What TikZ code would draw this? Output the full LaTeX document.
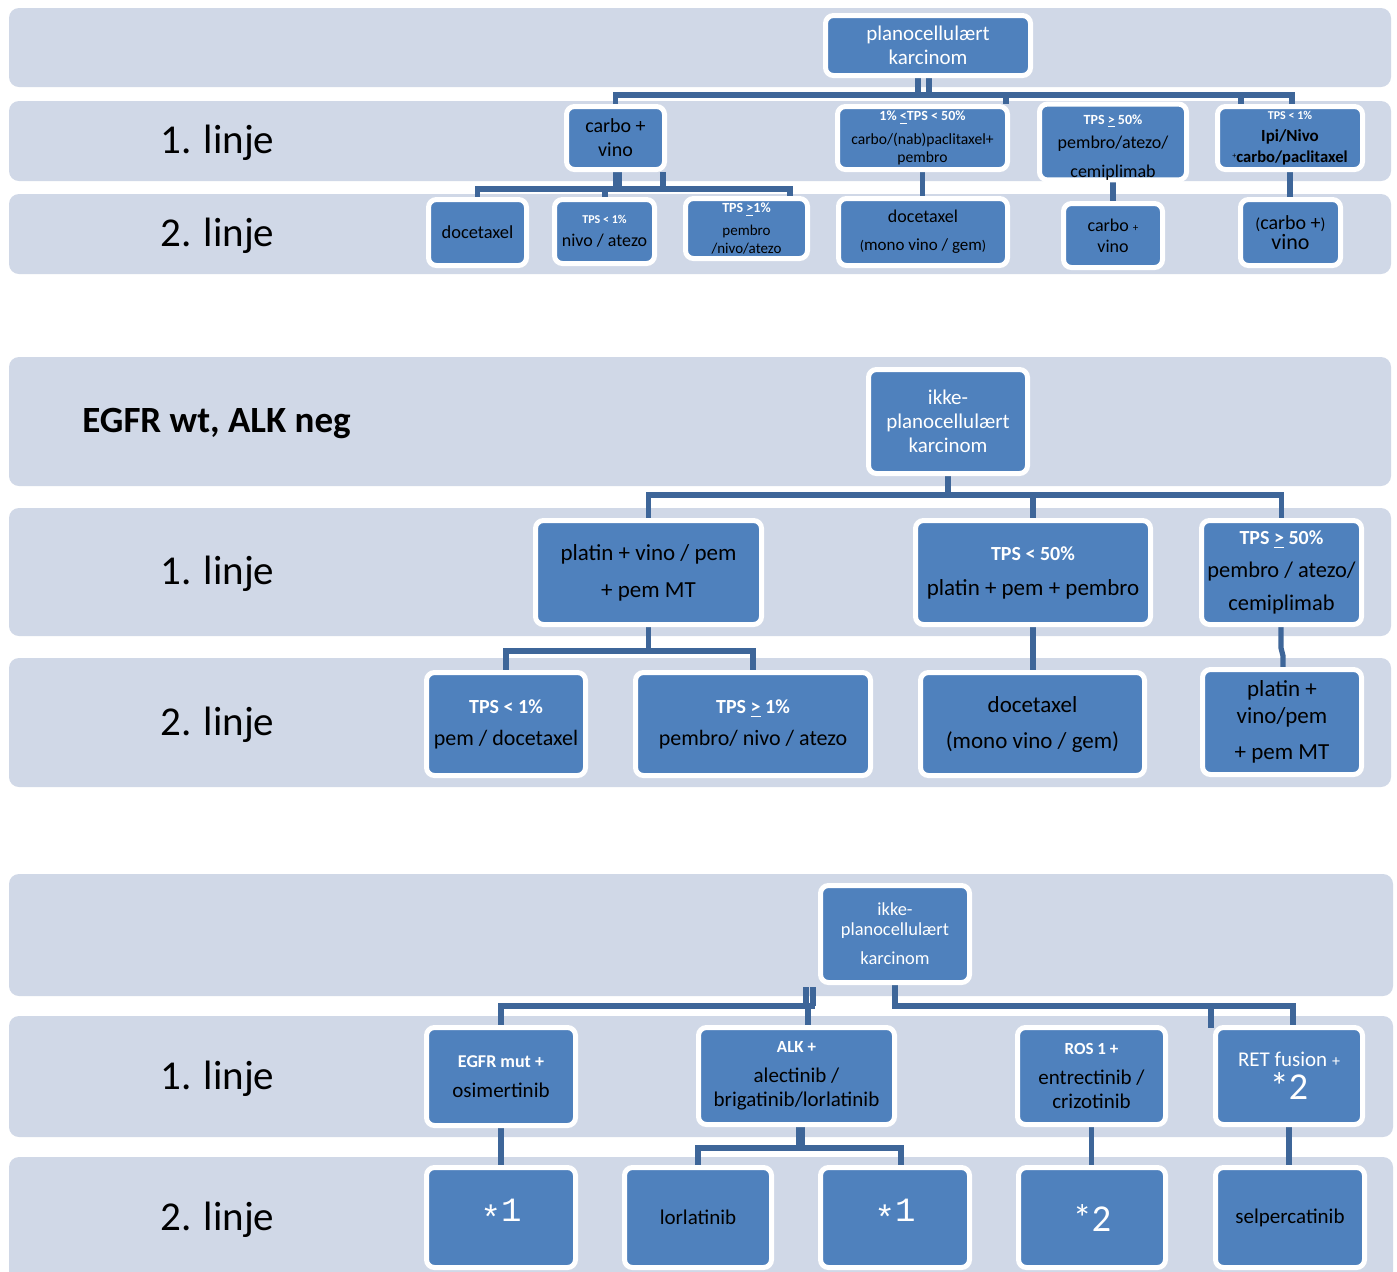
\documentclass[tikz,border=0pt]{standalone}
\usepackage{fontspec}
\setmainfont{Carlito}
\newfontfamily\monof{Liberation Mono}
\usetikzlibrary{calc,backgrounds}
\pgfdeclarelayer{bgzero}
\pgfdeclarelayer{bgone}
\pgfsetlayers{bgzero,bgone,main}
\definecolor{bandc}{RGB}{208,216,231}
\definecolor{boxc}{RGB}{79,129,189}
\definecolor{linec}{RGB}{62,102,153}
\newcommand\fs[2]{\fontsize{#1}{#2}\selectfont}
\newcommand\wb[1]{{\color{white}\bfseries #1}}
\newcommand\starone{{\color{white}\monof\fs{17}{17}\raisebox{-4pt}{*}1}}
\newcommand\bx[7][]{\node[box,minimum width={(#4-#2-5)*0.5pt},minimum height={(#5-#3-5)*0.5pt},#1] (#6) at ({(#2+#4)/2},{(#3+#5)/2}) {#7};}
\begin{document}
\begin{tikzpicture}[x=0.5pt,y=-0.5pt,
  box/.style={draw=white,line width=2.5pt,fill=boxc,rounded corners=4pt,inner sep=0pt,align=center,font=\fs{10.5}{12.5}},
  conn/.style={draw=linec,line width=2.6pt},
  band/.style={fill=bandc,rounded corners=5pt},
  lbl/.style={inner sep=0pt,anchor=base west,font=\fs{20.5}{24}}]
\useasboundingbox (0,0) rectangle (1397,1271);
\clip (0,0) rectangle (1397,1271);
\begin{pgfonlayer}{bgzero}
\fill[white] (0,0) rectangle (1397,1271);
\fill[band] (9,8) rectangle (1391,87);
\fill[band] (9,101) rectangle (1391,181);
\fill[band] (9,194) rectangle (1391,274);
\fill[band] (9,357) rectangle (1391,486);
\fill[band] (9,508) rectangle (1391,636);
\fill[band] (9,658) rectangle (1391,787);
\fill[band] (9,874) rectangle (1393,996);
\fill[band] (9,1016) rectangle (1393,1137);
\fill[band] (9,1157) rectangle (1393,1290);
\end{pgfonlayer}

% ---------- labels ----------
\node[lbl] (l11) at (160,153) {1. linje};
\node[lbl] (l12) at (160,246) {2. linje};
\node[lbl,font=\fs{18.5}{22}\bfseries] (hd2) at (82,432) {EGFR wt, ALK neg};
\node[lbl] (l21) at (160,584) {1. linje};
\node[lbl] (l22) at (160,735) {2. linje};
\node[lbl] (l31) at (160,1089) {1. linje};
\node[lbl] (l32) at (160,1230) {2. linje};

% ---------- section 1 ----------
\bx[font=\fs{10.5}{12}]{823}{13}{1033}{78}{r1}{\color{white}planocellulært\\\color{white}karcinom}
\bx[font=\fs{10}{12}]{564}{104}{667}{172}{a1}{carbo +\\vino}
\bx[font=\fs{8}{9}]{835}{104}{1010}{172}{a2}{\fs{7}{9}\wb{1\% \underline{<}TPS < 50\%}\\[3pt]\fs{7.8}{9}carbo/(nab)paclitaxel+\\\fs{7.8}{9}pembro}
\bx[font=\fs{9}{12}]{1037}{104}{1189}{180}{a3}{\rule{0pt}{10pt}\fs{7}{9}\wb{TPS \underline{>} 50\%}\\\fs{9}{11}pembro/atezo/\\[2.5pt]\fs{9}{11}cemiplimab}
\bx[font=\fs{8.5}{10.5}]{1215}{104}{1365}{172}{a4}{\fs{6}{7}\wb{TPS < 1\%}\\[0.5pt]\fs{8.5}{10}\bfseries Ipi/Nivo\\\fs{8.3}{10}{\fs{4}{4}\raisebox{2pt}{+}}\bfseries carbo/paclitaxel}

\bx[font=\fs{9.2}{11}]{426}{197}{529}{268}{b1}{docetaxel}
\bx[font=\fs{9}{11.5}]{552}{197}{657}{266}{b2}{\fs{6}{7}\wb{TPS < 1\%}\\\fs{9}{11}nivo / atezo}
\bx[font=\fs{7.5}{9}]{683}{196}{810}{261}{b3}{\fs{7}{9}\wb{TPS \underline{>}1\%}\\[2.5pt]\fs{7.5}{9}pembro\\\fs{7.5}{9}/nivo/atezo}
\bx[font=\fs{9}{14}]{836}{196}{1010}{268}{b4}{\fs{9}{11}docetaxel\\\fs{8.5}{10}{\fs{7}{8}(}mono vino / gem{\fs{7}{8})}}
\bx[font=\fs{9}{10.5}]{1061}{201}{1165}{270}{b5}{\fs{9}{10}carbo {\fs{5.5}{6}+}\\\fs{9}{10}vino}
\bx[font=\fs{10.5}{10}]{1238}{197}{1343}{268}{b6}{\fs{10}{10}{\fs{8}{9}(}carbo +{\fs{8}{9})}\\\fs{11}{10}vino}

% ---------- section 2 ----------
\bx[font=\fs{10.5}{12}]{866}{367}{1030}{476}{r2}{\color{white}ikke-\\\color{white}planocellulært\\\color{white}karcinom}
\bx[font=\fs{11.5}{18.5}]{533}{518}{764}{627}{c1}{platin + vino / pem\\+ pem MT}
\bx[font=\fs{11.5}{17.5}]{913}{518}{1153}{627}{c2}{\fs{10}{12}\wb{TPS < 50\%}\\\fs{11.5}{13}platin + pem + pembro}
\bx[font=\fs{11}{16.5}]{1199}{518}{1364}{627}{c3}{\fs{10}{12}\wb{TPS \underline{>} 50\%}\\\fs{11.2}{13}pembro / atezo/\\\fs{11.2}{13}cemiplimab}
\bx[font=\fs{11}{16}]{424}{670}{588}{778}{d1}{\fs{10}{12}\wb{TPS < 1\%}\\\fs{11}{13}pem / docetaxel}
\bx[font=\fs{11}{16}]{633}{670}{873}{778}{d2}{\fs{10}{12}\wb{TPS \underline{>} 1\%}\\\fs{11}{13}pembro/ nivo / atezo}
\bx[font=\fs{11.5}{18}]{918}{670}{1147}{778}{d3}{docetaxel\\(mono vino / gem)}
\bx[font=\fs{11.5}{13.5}]{1200}{667}{1364}{777}{d4}{platin +\\vino/pem\\[4.5pt]+ pem MT}

% ---------- section 3 ----------
\bx[font=\fs{9.2}{10}]{818}{883}{972}{985}{r3}{\color{white}ikke-\\\color{white}planocellulært\\[4.5pt]\color{white}karcinom}
\bx[font=\fs{10.5}{15}]{424}{1025}{578}{1128}{e1}{\fs{9}{11}\wb{EGFR mut +}\\\fs{10.5}{12}osimertinib}
\bx[font=\fs{10.5}{12}]{696}{1025}{897}{1127}{e2}{\fs{8.5}{10}\wb{ALK +}\\[3pt]alectinib /\\brigatinib/lorlatinib}
\bx[font=\fs{10.5}{12}]{1015}{1025}{1168}{1127}{e3}{\fs{8.5}{10}\wb{ROS 1 +}\\[3pt]entrectinib /\\crizotinib}
\bx[font=\fs{10.5}{16.5}]{1213}{1025}{1365}{1127}{e4}{\color{white}\fs{10.5}{12}RET fusion {\fs{8}{9}+}\\\color{white}\fs{19}{18}*2}
\bx{424}{1165}{578}{1270}{f1}{\raisebox{7pt}{\starone}}
\bx{622}{1165}{774}{1270}{f2}{lorlatinib}
\bx{818}{1165}{972}{1270}{f3}{\raisebox{7pt}{\starone}}
\bx{1016}{1165}{1168}{1270}{f4}{\color{white}\fs{19}{18}*2}
\bx{1213}{1165}{1367}{1270}{f5}{selpercatinib}

% ---------- connectors ----------
\begin{pgfonlayer}{bgone}
% section 1
\draw[conn] (918,0 |- r1.south) -- (918,95);
\draw[conn] (929,0 |- r1.south) -- (929,95);
\draw[conn] (a1.north) -- (a1.north |- 0,95) -- (1292,95) -- (1292,0 |- a4.north);
\draw[conn] (1006,95) -- (1006,0 |- a2.north);
\draw[conn] (1241,95) -- (1241,0 |- a4.north);
\draw[conn,line width=4.5pt] (617,0 |- a1.south) -- (617,189);
\draw[conn] (663,0 |- a1.south) -- (663,189);
\draw[conn] (b1.north) -- (b1.north |- 0,189) -- (790,189) -- (790,0 |- b3.north);
\draw[conn] (605,189) -- (605,0 |- b2.north);
\draw[conn] (a2.south) -- (a2.south |- b4.north);
\draw[conn] (a3.south) -- (a3.south |- b5.north);
\draw[conn] (a4.south) -- (a4.south |- b6.north);
% section 2
\draw[conn] (r2.south) -- (r2.south |- 0,495);
\draw[conn] (c1.north) -- (c1.north |- 0,495) -- (c3.north |- 0,495) -- (c3.north);
\draw[conn] (c2.north |- 0,495) -- (c2.north);
\draw[conn] (c1.south) -- (c1.south |- 0,651);
\draw[conn] (d1.north) -- (d1.north |- 0,651) -- (d2.north |- 0,651) -- (d2.north);
\draw[conn] (c2.south) -- (c2.south |- d3.north);
\draw[conn] (1281,0 |- c3.south) -- (1281,648) -- (1283,656) -- (1283,0 |- d4.north);
% section 3
\draw[conn] ($(806,0 |- r3.south)+(0,2)$) -- (806,1006);
\draw[conn] ($(813,0 |- r3.south)+(0,2)$) -- (813,1006);
\draw[conn] (e1.north) -- (e1.north |- 0,1006) -- (815,1006);
\draw[conn] (808,1006) -- (808,0 |- e2.north);
\draw[conn] (895,0 |- r3.south) -- (895,1006) -- (1293,1006) -- (1293,0 |- e4.north);
\draw[conn] (1211,1006) -- (1211,1028);
\draw[conn] (e1.south) -- (e1.south |- f1.north);
\draw[conn,line width=4.5pt] (800,0 |- e2.south) -- (800,1148);
\draw[conn] (f2.north) -- (f2.north |- 0,1148) -- (901,1148) -- (901,0 |- f3.north);
\draw[conn] (e3.south) -- (e3.south |- f4.north);
\draw[conn] (e4.south) -- (e4.south |- f5.north);
\end{pgfonlayer}
\end{tikzpicture}
\end{document}
